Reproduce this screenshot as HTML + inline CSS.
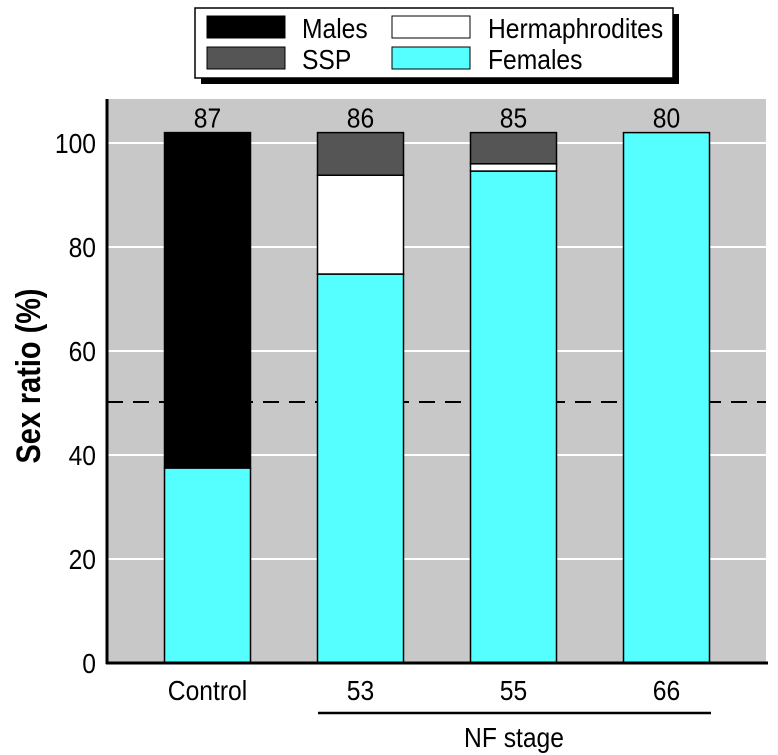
<!DOCTYPE html>
<html><head><meta charset="utf-8"><style>
body{margin:0;background:#fff;}
svg{display:block;font-family:"Liberation Sans",sans-serif;}
</style></head><body>
<svg id="chart" width="778" height="755" viewBox="0 0 778 755">
<rect x="107" y="99" width="659" height="564" fill="#c8c8c8"/>
<g id="grid"></g>
<line x1="107" y1="402" x2="766" y2="402" stroke="#000" stroke-width="2" stroke-dasharray="16,10"/>
<g id="bars"></g>
<line x1="107" y1="99" x2="107" y2="664" stroke="#000" stroke-width="3"/>
<line x1="106" y1="663" x2="768" y2="663" stroke="#000" stroke-width="3"/>
<g id="ticks" font-size="28" text-anchor="end"></g>
<g id="xlabels" font-size="28" text-anchor="middle"></g>
<g transform="translate(40,376) rotate(-90) scale(0.85,1)"><text x="0" y="0" text-anchor="middle" font-size="34" font-weight="bold">Sex ratio (%)</text></g>
<line x1="318" y1="713" x2="711" y2="713" stroke="#000" stroke-width="2.5"/>
<text class="n" x="514" y="747" text-anchor="middle" font-size="28">NF stage</text>
<g>
<rect x="201" y="14" width="478" height="70" fill="#000"/>
<rect x="195" y="8" width="478" height="70" fill="#fff" stroke="#000" stroke-width="1.5"/>
<rect x="207" y="16" width="78" height="22" fill="#000" stroke="#000"/>
<text class="n" x="302" y="38" font-size="28">Males</text>
<rect x="207" y="47" width="78" height="22" fill="#555" stroke="#000"/>
<text class="n" x="302" y="69" font-size="28">SSP</text>
<rect x="392" y="16" width="78" height="22" fill="#fff" stroke="#000"/>
<text class="n" x="488" y="38" font-size="28">Hermaphrodites</text>
<rect x="392" y="47" width="78" height="22" fill="#55ffff" stroke="#000"/>
<text class="n" x="488" y="69" font-size="28">Females</text>
</g>
</svg>
<script>
const categories = ["Control", "53", "55", "66"];
const counts = ["87", "86", "85", "80"];
const females = [37.5, 74.8, 94.6, 102];
const hermaphrodites = [0, 19, 1.4, 0];
const ssp = [0, 8.2, 6, 0];
const males = [64.5, 0, 0, 0];
const yTicks = [0, 20, 40, 60, 80, 100];

const NS = "http://www.w3.org/2000/svg";
const y = v => 663 - v * 5.2;
const xc = i => 207.5 + i * 153;
const bw = 86;
function mk(tag, attrs, parent) {
  const e = document.createElementNS(NS, tag);
  for (const k in attrs) e.setAttribute(k, attrs[k]);
  parent.appendChild(e);
  return e;
}
const grid = document.getElementById('grid');
const ticks = document.getElementById('ticks');
yTicks.forEach(t => {
  if (t > 0) {
    const g = mk('line', {x1: 107, x2: 766, y1: y(t), y2: y(t), stroke: '#fff', 'stroke-width': 2}, grid);
    
    
  }
  const tx = mk('text', {x: 96, y: y(t) + 10, class: 'n'}, ticks);
  tx.textContent = t;
  
  
});
const bars = document.getElementById('bars');
const xl = document.getElementById('xlabels');
const series = [[females, '#55ffff', 'females'], [hermaphrodites, '#fff', 'hermaphrodites'], [ssp, '#555', 'ssp'], [males, '#000', 'males']];
categories.forEach((c, i) => {
  let base = 0;
  series.forEach(([arr, col, nm]) => {
    const v = arr[i];
    if (v > 0) {
      const r = mk('rect', {x: xc(i) - bw / 2, y: y(base + v), width: bw, height: v * 5.2, fill: col, stroke: '#000', 'stroke-width': 1.5}, bars);
      
      
    }
    base += v;
  });
  const n = mk('text', {x: xc(i), y: y(base) - 5, class: 'n'}, xl);
  n.textContent = counts[i];
  
  
  const l = mk('text', {x: xc(i), y: 700, class: 'n'}, xl);
  l.textContent = c;
  
  
});
document.querySelectorAll('text.n').forEach(t => {
  const x = +t.getAttribute('x');
  t.setAttribute('transform', 'translate(' + x + ',0) scale(0.88,1) translate(' + (-x) + ',0)');
});
</script>
</body></html>
